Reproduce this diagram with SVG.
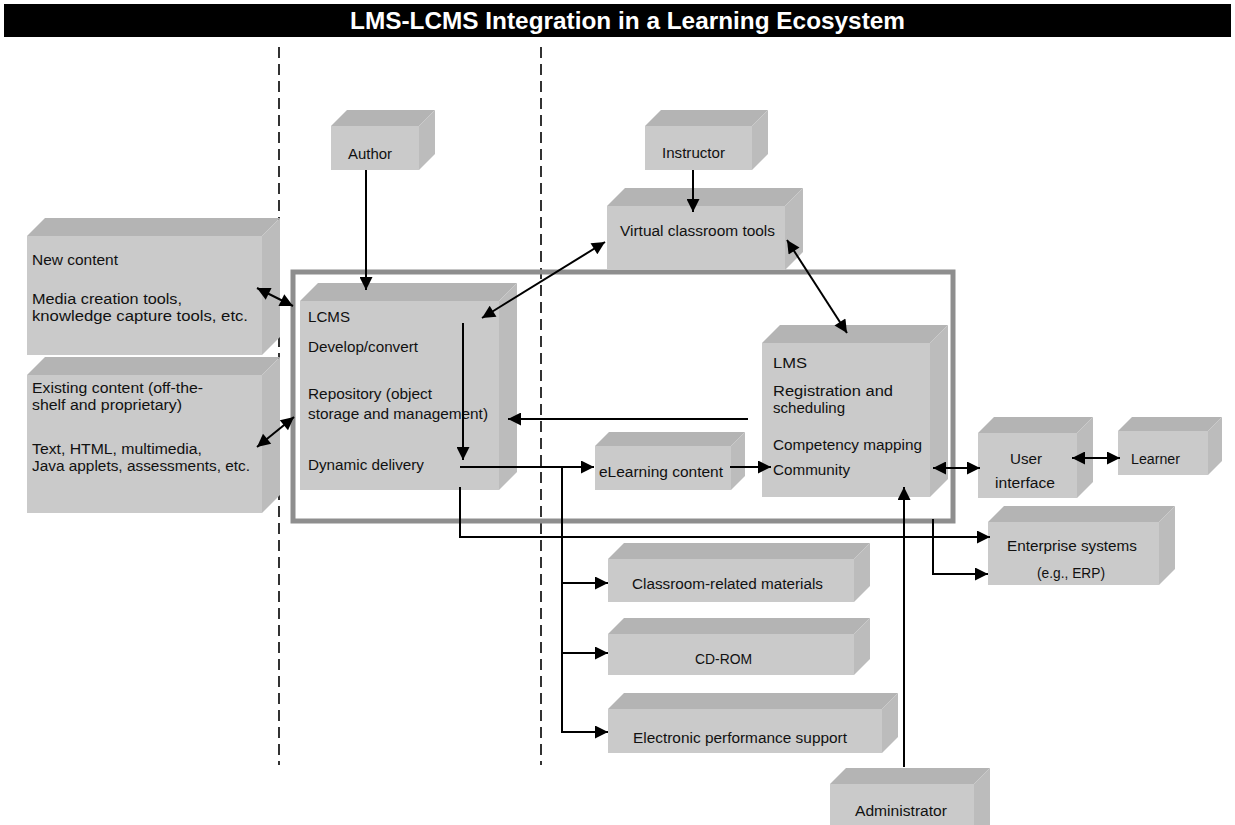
<svg xmlns="http://www.w3.org/2000/svg" width="1235" height="825" viewBox="0 0 1235 825">
  <style>
    .top { fill: #b4b4b4; }
    .front { fill: #cacaca; }
    .side { fill: #bcbcbc; }
    .lbl { font-family: "Liberation Sans Narrow", "Liberation Sans", Arial, sans-serif; font-size: 15.5px; fill: #111; }
    .title { font-family: "Liberation Sans Narrow", "Liberation Sans", Arial, sans-serif; font-size: 24px; font-weight: bold; fill: #fff; }
    .wire { fill: none; stroke: #000; stroke-width: 2; }
    .divider { fill: none; stroke: #000; stroke-width: 1.6; stroke-dasharray: 11 6; }
    .frame { fill: none; stroke: #8e8e8e; stroke-width: 5; }
  </style>
  <defs>
    <marker id="ah" viewBox="0 0 10 10" refX="10" refY="5" markerWidth="15" markerHeight="13" markerUnits="userSpaceOnUse" orient="auto-start-reverse">
      <path d="M0,0 L10,5 L0,10 z" fill="#000"/>
    </marker>
  </defs>

  <rect width="1235" height="825" fill="#fff"/>

  <!-- title bar -->
  <g id="title">
    <rect x="4" y="4" width="1227" height="33" fill="#000"/>
    <text class="title" x="350" y="29" textLength="555" lengthAdjust="spacingAndGlyphs">LMS-LCMS Integration in a Learning Ecosystem</text>
  </g>

  <!-- zone dividers -->
  <g id="dividers">
    <line class="divider" x1="279" y1="47" x2="279" y2="765"/>
    <line class="divider" x1="541" y1="47" x2="541" y2="765"/>
  </g>

  <!-- integration frame -->
  <rect id="frame" class="frame" x="293" y="272" width="660" height="249"/>

  <g id="new-content">
    <polygon class="top" points="27,236 45,218 280,218 262,236"/>
    <polygon class="side" points="262,236 280,218 280,337 262,355"/>
    <rect class="front" x="27" y="236" width="235" height="119"/>
    <text class="lbl" x="32" y="265" textLength="86" lengthAdjust="spacingAndGlyphs">New content</text>
    <text class="lbl" x="32" y="304" textLength="150" lengthAdjust="spacingAndGlyphs">Media creation tools,</text>
    <text class="lbl" x="32" y="321" textLength="216" lengthAdjust="spacingAndGlyphs">knowledge capture tools, etc.</text>
  </g>

  <g id="existing-content">
    <polygon class="top" points="27,375 45,357 280,357 262,375"/>
    <polygon class="side" points="262,375 280,357 280,495 262,513"/>
    <rect class="front" x="27" y="375" width="235" height="138"/>
    <text class="lbl" x="32" y="393" textLength="171" lengthAdjust="spacingAndGlyphs">Existing content (off-the-</text>
    <text class="lbl" x="32" y="410" textLength="150" lengthAdjust="spacingAndGlyphs">shelf and proprietary)</text>
    <text class="lbl" x="32" y="454" textLength="170" lengthAdjust="spacingAndGlyphs">Text, HTML, multimedia,</text>
    <text class="lbl" x="32" y="471" textLength="218" lengthAdjust="spacingAndGlyphs">Java applets, assessments, etc.</text>
  </g>

  <g id="author">
    <polygon class="top" points="331,126 347,110 435,110 419,126"/>
    <polygon class="side" points="419,126 435,110 435,154 419,170"/>
    <rect class="front" x="331" y="126" width="88" height="44"/>
    <text class="lbl" x="348" y="159" textLength="44" lengthAdjust="spacingAndGlyphs">Author</text>
  </g>

  <g id="instructor">
    <polygon class="top" points="645,126 661,110 768,110 752,126"/>
    <polygon class="side" points="752,126 768,110 768,154 752,170"/>
    <rect class="front" x="645" y="126" width="107" height="44"/>
    <text class="lbl" x="662" y="158" textLength="63" lengthAdjust="spacingAndGlyphs">Instructor</text>
  </g>

  <g id="virtual-classroom">
    <polygon class="top" points="607,206 625,188 803,188 785,206"/>
    <polygon class="side" points="785,206 803,188 803,252 785,270"/>
    <rect class="front" x="607" y="206" width="178" height="64"/>
    <text class="lbl" x="620" y="236" textLength="155" lengthAdjust="spacingAndGlyphs">Virtual classroom tools</text>
  </g>

  <g id="lcms">
    <polygon class="top" points="300,301 318,283 517,283 499,301"/>
    <polygon class="side" points="499,301 517,283 517,472 499,490"/>
    <rect class="front" x="300" y="301" width="199" height="189"/>
    <text class="lbl" x="308" y="322" textLength="42" lengthAdjust="spacingAndGlyphs">LCMS</text>
    <text class="lbl" x="308" y="352" textLength="110" lengthAdjust="spacingAndGlyphs">Develop/convert</text>
    <text class="lbl" x="308" y="399" textLength="124" lengthAdjust="spacingAndGlyphs">Repository (object</text>
    <text class="lbl" x="308" y="419" textLength="180" lengthAdjust="spacingAndGlyphs">storage and management)</text>
    <text class="lbl" x="308" y="470" textLength="116" lengthAdjust="spacingAndGlyphs">Dynamic delivery</text>
  </g>

  <g id="lms">
    <polygon class="top" points="762,343 780,325 948,325 930,343"/>
    <polygon class="side" points="930,343 948,325 948,479 930,497"/>
    <rect class="front" x="762" y="343" width="168" height="154"/>
    <text class="lbl" x="773" y="368" textLength="34" lengthAdjust="spacingAndGlyphs">LMS</text>
    <text class="lbl" x="773" y="396" textLength="120" lengthAdjust="spacingAndGlyphs">Registration and</text>
    <text class="lbl" x="773" y="413" textLength="72" lengthAdjust="spacingAndGlyphs">scheduling</text>
    <text class="lbl" x="773" y="450" textLength="149" lengthAdjust="spacingAndGlyphs">Competency mapping</text>
    <text class="lbl" x="773" y="475" textLength="77" lengthAdjust="spacingAndGlyphs">Community</text>
  </g>

  <g id="elearning-content">
    <polygon class="top" points="595,446 609,432 745,432 731,446"/>
    <polygon class="side" points="731,446 745,432 745,476 731,490"/>
    <rect class="front" x="595" y="446" width="136" height="44"/>
    <text class="lbl" x="599" y="477" textLength="124" lengthAdjust="spacingAndGlyphs">eLearning content</text>
  </g>

  <g id="user-interface">
    <polygon class="top" points="978,433 994,417 1093,417 1077,433"/>
    <polygon class="side" points="1077,433 1093,417 1093,482 1077,498"/>
    <rect class="front" x="978" y="433" width="99" height="65"/>
    <text class="lbl" x="1010" y="464" textLength="32" lengthAdjust="spacingAndGlyphs">User</text>
    <text class="lbl" x="995" y="488" textLength="60" lengthAdjust="spacingAndGlyphs">interface</text>
  </g>

  <g id="learner">
    <polygon class="top" points="1118,431 1132,417 1222,417 1208,431"/>
    <polygon class="side" points="1208,431 1222,417 1222,461 1208,475"/>
    <rect class="front" x="1118" y="431" width="90" height="44"/>
    <text class="lbl" x="1131" y="464" textLength="49" lengthAdjust="spacingAndGlyphs">Learner</text>
  </g>

  <g id="enterprise-systems">
    <polygon class="top" points="988,522 1004,506 1175,506 1159,522"/>
    <polygon class="side" points="1159,522 1175,506 1175,569 1159,585"/>
    <rect class="front" x="988" y="522" width="171" height="63"/>
    <text class="lbl" x="1007" y="551" textLength="130" lengthAdjust="spacingAndGlyphs">Enterprise systems</text>
    <text class="lbl" x="1037" y="578" textLength="68" lengthAdjust="spacingAndGlyphs">(e.g., ERP)</text>
  </g>

  <g id="classroom-materials">
    <polygon class="top" points="608,559 624,543 870,543 854,559"/>
    <polygon class="side" points="854,559 870,543 870,586 854,602"/>
    <rect class="front" x="608" y="559" width="246" height="43"/>
    <text class="lbl" x="632" y="589" textLength="191" lengthAdjust="spacingAndGlyphs">Classroom-related materials</text>
  </g>

  <g id="cd-rom">
    <polygon class="top" points="608,634 624,618 870,618 854,634"/>
    <polygon class="side" points="854,634 870,618 870,659 854,675"/>
    <rect class="front" x="608" y="634" width="246" height="41"/>
    <text class="lbl" x="695" y="664" textLength="57" lengthAdjust="spacingAndGlyphs">CD-ROM</text>
  </g>

  <g id="performance-support">
    <polygon class="top" points="608,709 624,693 898,693 882,709"/>
    <polygon class="side" points="882,709 898,693 898,737 882,753"/>
    <rect class="front" x="608" y="709" width="274" height="44"/>
    <text class="lbl" x="633" y="743" textLength="214" lengthAdjust="spacingAndGlyphs">Electronic performance support</text>
  </g>

  <g id="administrator">
    <polygon class="top" points="830,784 846,768 990,768 974,784"/>
    <polygon class="side" points="974,784 990,768 990,825 974,825"/>
    <rect class="front" x="830" y="784" width="144" height="41"/>
    <text class="lbl" x="855" y="816" textLength="92" lengthAdjust="spacingAndGlyphs">Administrator</text>
  </g>

  <!-- connectors -->
  <g id="connectors">
    <line class="wire" x1="366" y1="170" x2="366" y2="290" marker-end="url(#ah)"/>
    <line class="wire" x1="693" y1="170" x2="693" y2="212" marker-end="url(#ah)"/>
    <line class="wire" x1="482" y1="318" x2="605" y2="242" marker-start="url(#ah)" marker-end="url(#ah)"/>
    <line class="wire" x1="787" y1="240" x2="847" y2="333" marker-start="url(#ah)" marker-end="url(#ah)"/>
    <line class="wire" x1="257" y1="288" x2="293" y2="306" marker-start="url(#ah)" marker-end="url(#ah)"/>
    <line class="wire" x1="257" y1="447" x2="294" y2="417" marker-start="url(#ah)" marker-end="url(#ah)"/>
    <line class="wire" x1="463" y1="323" x2="463" y2="460" marker-end="url(#ah)"/>
    <line class="wire" x1="748" y1="419" x2="508" y2="419" marker-end="url(#ah)"/>
    <line class="wire" x1="460" y1="467" x2="594" y2="467" marker-end="url(#ah)"/>
    <line class="wire" x1="730" y1="467" x2="771" y2="467" marker-end="url(#ah)"/>
    <polyline class="wire" points="562,467 562,732 608,732" marker-end="url(#ah)"/>
    <line class="wire" x1="562" y1="583" x2="608" y2="583" marker-end="url(#ah)"/>
    <line class="wire" x1="562" y1="653" x2="608" y2="653" marker-end="url(#ah)"/>
    <polyline class="wire" points="460,487 460,537 990,537" marker-end="url(#ah)"/>
    <polyline class="wire" points="933,519 933,574 988,574" marker-end="url(#ah)"/>
    <line class="wire" x1="904" y1="767" x2="904" y2="487" marker-end="url(#ah)"/>
    <line class="wire" x1="933" y1="468" x2="980" y2="468" marker-start="url(#ah)" marker-end="url(#ah)"/>
    <line class="wire" x1="1072" y1="458" x2="1120" y2="458" marker-start="url(#ah)" marker-end="url(#ah)"/>
  </g>
</svg>
